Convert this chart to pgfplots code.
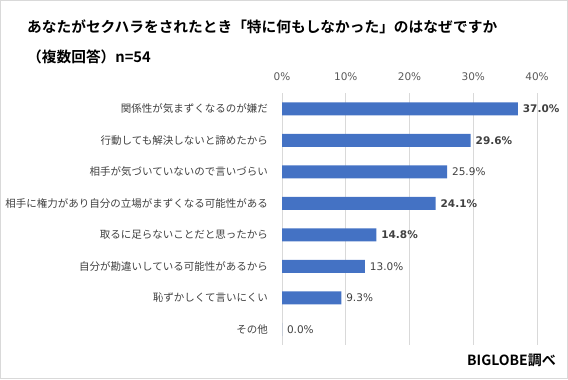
\documentclass[border=0pt]{standalone}
\usepackage{fontspec}
\setmainfont{Noto Sans CJK JP}[BoldFont={Noto Sans CJK JP Bold}]
\newfontfamily\numfont{DejaVu Sans}
\usepackage{pgfplots}
\pgfplotsset{compat=1.18}
\definecolor{barblue}{HTML}{4472C4}
\definecolor{gridgray}{HTML}{D9D9D9}
\definecolor{txt}{HTML}{404040}
\definecolor{ticktxt}{HTML}{595959}
\begin{document}
\begin{tikzpicture}[x=1bp,y=1bp]
\draw[gridgray, line width=1bp] (0.5,0.5) rectangle (567.5,378.5);
\node[anchor=west, inner sep=0pt, font=\fontsize{14.7bp}{17bp}\selectfont\bfseries] at (27,352) {あなたがセクハラをされたとき「特に何もしなかった」のはなぜですか};
\node[anchor=west, inner sep=0pt, font=\fontsize{14.7bp}{17bp}\selectfont\bfseries] at (27,322) {（複数回答）n=54};
\node[anchor=east, inner sep=0pt, font=\fontsize{14bp}{16bp}\selectfont\bfseries] at (556,19) {BIGLOBE調べ};
\begin{axis}[
  at={(282bp,34bp)}, anchor=south west,
  width=255bp, height=252bp, scale only axis,
  xbar, bar width=13bp,
  xmin=0, xmax=40, ymin=-0.5, ymax=7.5,
  y dir=reverse,
  ytick={0,1,2,3,4,5,6,7},
  yticklabels={関係性が気まずくなるのが嫌だ,行動しても解決しないと諦めたから,相手が気づいていないので言いづらい,相手に権力があり自分の立場がまずくなる可能性がある,取るに足らないことだと思ったから,自分が勘違いしている可能性があるから,恥ずかしくて言いにくい,その他},
  yticklabel style={anchor=east, inner sep=0pt, xshift=-14bp, text=txt, font=\fontsize{10.5bp}{12bp}\selectfont},
  xtick={0,10,20,30,40},
  xticklabels={0\%,10\%,20\%,30\%,40\%},
  xticklabel pos=top,
  xticklabel style={anchor=center, inner sep=0pt, yshift=16bp, text=ticktxt, font=\numfont\fontsize{10.5bp}{12bp}\selectfont},
  major tick length=0pt,
  axis line style={draw=none},
  xmajorgrids, grid style={gridgray, line width=0.75bp},
  point meta=explicit symbolic,
  nodes near coords,
  nodes near coords style={anchor=west, xshift=1.5bp, text=txt, font=\numfont\fontsize{10.5bp}{12bp}\selectfont},
]
\addplot[fill=barblue, draw=none] coordinates {
  (37.0,0) [\textbf{37.0\%}]
  (29.6,1) [\textbf{29.6\%}]
  (25.9,2) [25.9\%]
  (24.1,3) [\textbf{24.1\%}]
  (14.8,4) [\textbf{14.8\%}]
  (13.0,5) [13.0\%]
  (9.3,6) [9.3\%]
  (0.0,7) [0.0\%]
};
\end{axis}
\end{tikzpicture}
\end{document}
